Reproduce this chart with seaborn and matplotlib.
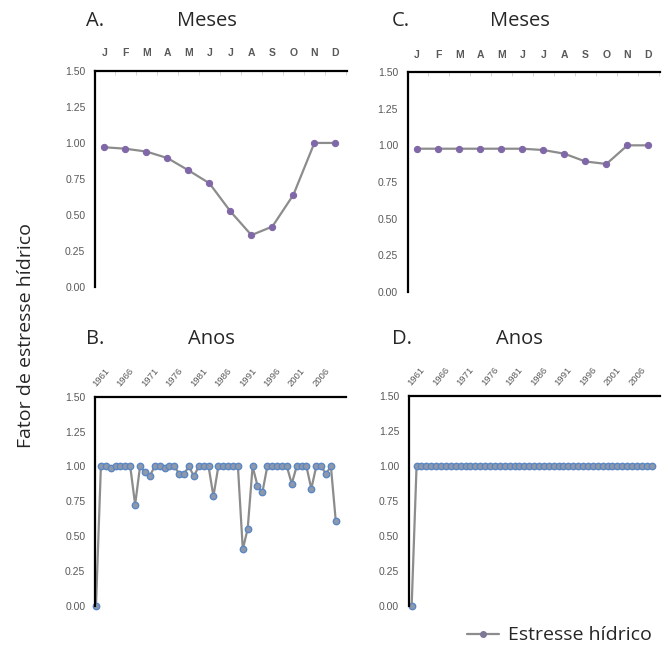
import numpy as np
import pandas as pd
import matplotlib
matplotlib.use("Agg")
import matplotlib.pyplot as plt
import seaborn as sns
from matplotlib.lines import Line2D

# Data
months = ['J', 'F', 'M', 'A', 'M', 'J', 'J', 'A', 'S', 'O', 'N', 'D']
stress_a = [0.97, 0.96, 0.94, 0.895, 0.81, 0.72, 0.525, 0.36, 0.42, 0.64, 1.00, 1.00]
stress_c = [0.977, 0.977, 0.977, 0.977, 0.977, 0.977, 0.968, 0.943, 0.89, 0.873, 1.00, 1.00]

years = list(range(1960, 2010))
stress_b = [0.00, 1.00, 1.00, 0.99, 1.00, 1.00, 1.00, 1.00, 0.726, 1.00,
            0.96, 0.933, 1.00, 1.00, 0.99, 1.00, 1.00, 0.948, 0.948, 1.00,
            0.93, 1.00, 1.00, 1.00, 0.786, 1.00, 1.00, 1.00, 1.00, 1.00,
            0.405, 0.555, 1.00, 0.862, 0.814, 1.00, 1.00, 1.00, 1.00, 1.00,
            0.876, 1.00, 1.00, 1.00, 0.84, 1.00, 1.00, 0.948, 1.00, 0.607]
stress_d = [0.00] + [1.00] * 49
year_labels = [str(y) for y in range(1961, 2010, 5)]

yticks = [0.00, 0.25, 0.50, 0.75, 1.00, 1.25, 1.50]

sns.set_style("white")
plt.rcParams['font.family'] = ['Liberation Sans', 'DejaVu Sans']

fig = plt.figure(figsize=(6.70, 6.47), dpi=100)

LINE = '#8c8c8c'
PURPLE = '#8068a8'
BLUE = '#5b86c4'
TICKCOL = '#595959'
TITLEFONT = ['Open Sans', 'DejaVu Sans']


def style_axis(ax, xlim):
    ax.set_ylim(0, 1.5)
    ax.set_xlim(*xlim)
    ax.set_yticks(yticks)
    ax.set_yticklabels([f"{v:.2f}" for v in yticks])
    ax.xaxis.tick_top()
    for s in ['right', 'bottom']:
        ax.spines[s].set_visible(False)
    for s in ['left', 'top']:
        ax.spines[s].set_color('black')
        ax.spines[s].set_linewidth(1.6)
    ax.tick_params(axis='y', length=0, pad=7, labelsize=7.5, labelcolor=TICKCOL)
    ax.tick_params(axis='x', length=0, labelsize=7.5, labelcolor=TICKCOL)
    ax.set_xlabel('')
    ax.set_ylabel('')
    ax.grid(False)


def month_panel(rect, values, letter, lx, tx):
    ax = fig.add_axes(rect)
    df = pd.DataFrame({'m': np.arange(12), 'v': values})
    sns.lineplot(data=df, x='m', y='v', ax=ax, color=LINE, linewidth=1.6,
                 marker='o', markersize=4.5, markerfacecolor=PURPLE,
                 markeredgecolor=PURPLE, clip_on=False)
    style_axis(ax, (-0.45, 11.55))
    ax.set_xticks(np.arange(12))
    ax.set_xticklabels(months, fontweight='bold')
    ax.set_xticks(np.arange(12) + 0.5, minor=True)
    ax.tick_params(axis='x', which='major', pad=9)
    ax.tick_params(axis='x', which='minor', length=3, color='#d0d0d0', direction='in')
    fig.text(lx, 0.968, letter, fontsize=14.5, family=TITLEFONT, va='center')
    fig.text(tx, 0.968, 'Meses', fontsize=14.5, family=TITLEFONT, va='center', ha='center')
    return ax


def year_panel(rect, values, letter, lx, tx, xlim):
    ax = fig.add_axes(rect)
    df = pd.DataFrame({'y': np.arange(len(years)), 'v': values})
    sns.lineplot(data=df, x='y', y='v', ax=ax, color=LINE, linewidth=1.6,
                 marker='o', markersize=4.6, markerfacecolor='#8d99ab',
                 markeredgecolor=BLUE, markeredgewidth=1.0, clip_on=False)
    style_axis(ax, xlim)
    ax.set_xticks(np.arange(1, len(years), 5))
    ax.set_xticklabels(year_labels, rotation=50)
    ax.tick_params(axis='x', which='major', pad=6, labelsize=6.8)
    fig.text(lx, 0.476, letter, fontsize=14.5, family=TITLEFONT, va='center')
    fig.text(tx, 0.476, 'Anos', fontsize=14.5, family=TITLEFONT, va='center', ha='center')
    return ax


month_panel([0.1418, 0.5564, 0.376, 0.334], stress_a, 'A.', 0.128, 0.309)
month_panel([0.6085, 0.5487, 0.3766, 0.340], stress_c, 'C.', 0.585, 0.776)
year_panel([0.1418, 0.0634, 0.374, 0.3235], stress_b, 'B.', 0.128, 0.316, (-0.2, 51.0))
year_panel([0.6104, 0.0634, 0.3746, 0.3246], stress_d, 'D.', 0.585, 0.775, (-0.55, 50.7))

# shared y label
fig.text(0.039, 0.482, 'Fator de estresse hídrico', rotation=90, fontsize=14,
         family=TITLEFONT, va='center', ha='center')

# legend
handle = Line2D([0], [0], color=LINE, linewidth=1.6, marker='o', markersize=4,
                markerfacecolor='#7d7896', markeredgecolor='#7d7896')
leg = fig.legend([handle], ['Estresse hídrico'], loc='center right',
                 bbox_to_anchor=(0.985, 0.018), frameon=False,
                 prop={'family': TITLEFONT, 'size': 14}, handlelength=1.6,
                 handletextpad=0.5, borderaxespad=0)

fig.savefig('out.png', dpi=100)
